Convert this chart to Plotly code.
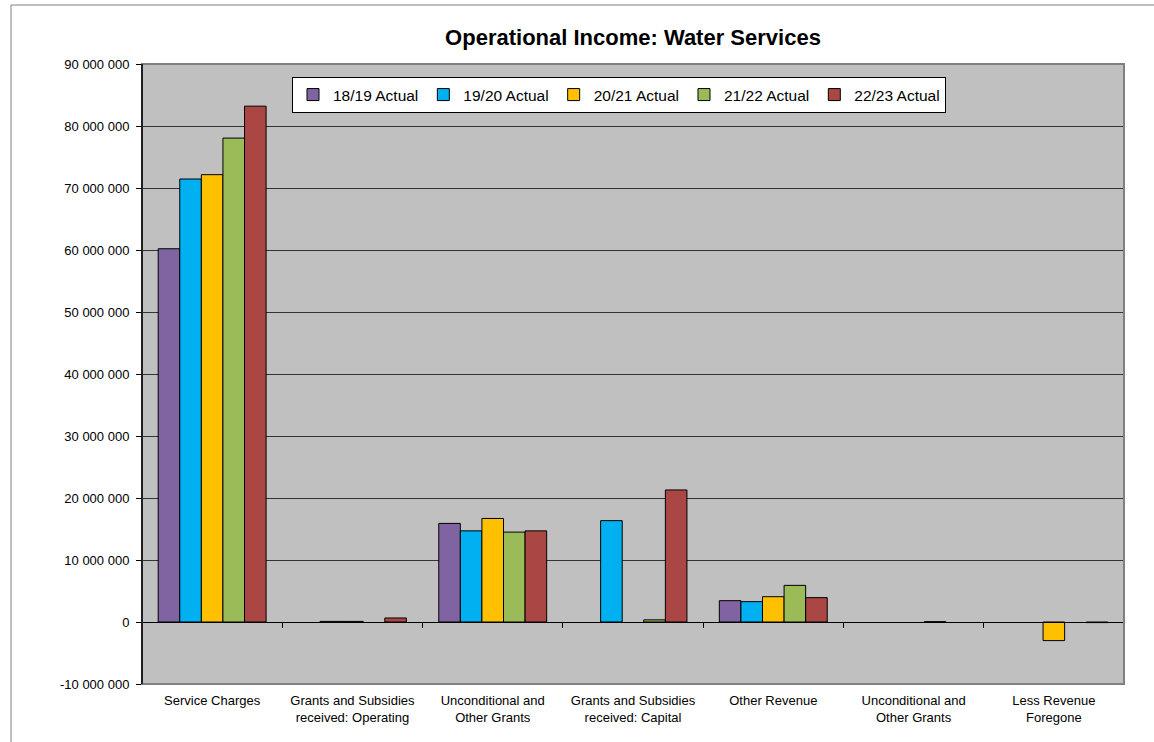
import plotly.graph_objects as go

# Income categories (two-line axis labels)
categories = [
    "Service Charges",
    "Grants and Subsidies<br>received: Operating",
    "Unconditional and<br>Other Grants",
    "Grants and Subsidies<br>received: Capital",
    "Other Revenue",
    "Unconditional and<br>Other Grants",
    "Less Revenue<br>Foregone",
]

# Actual income per financial year (Rand); None = nothing recorded
actual_18_19 = [60_200_000, None, 15_900_000, None, 3_440_000, None, None]
actual_19_20 = [71_450_000, 100_000, 14_700_000, 16_350_000, 3_280_000, None, None]
actual_20_21 = [72_150_000, 100_000, 16_700_000, None, 4_080_000, None, -3_000_000]
actual_21_22 = [78_050_000, None, 14_500_000, 350_000, 5_910_000, 50_000, None]
actual_22_23 = [83_200_000, 650_000, 14_700_000, 21_300_000, 3_930_000, None, -100_000]

series_names = ["18/19 Actual", "19/20 Actual", "20/21 Actual", "21/22 Actual", "22/23 Actual"]
series_values = [actual_18_19, actual_19_20, actual_20_21, actual_21_22, actual_22_23]
series_colors = ["#8064A2", "#00B0F0", "#FFC000", "#9BBB59", "#AA4643"]

# Value axis ticks
y_ticks = [-10_000_000, 0, 10_000_000, 20_000_000, 30_000_000, 40_000_000,
           50_000_000, 60_000_000, 70_000_000, 80_000_000, 90_000_000]
y_tick_text = [("-" if v < 0 else "") + f"{abs(v):,}".replace(",", " ") for v in y_ticks]

FONT = "Liberation Sans, Arial, sans-serif"
W, H = 1154, 742
ML, MR, MT, MB = 142, 30, 64, 58
PW, PH = W - ML - MR, H - MT - MB

x_idx = list(range(len(categories)))

fig = go.Figure()
for name, vals, col in zip(series_names, series_values, series_colors):
    fig.add_trace(go.Bar(
        x=x_idx, y=vals, name=name,
        marker=dict(color=col, line=dict(color="#000000", width=1)),
    ))

y_min, y_max = y_ticks[0], y_ticks[-1]
zero_pos = (0 - y_min) / (y_max - y_min)

def px_x(p):
    return (p - ML) / PW

def px_y(p):
    return (H - MB - p) / PH

fig.update_layout(
    width=W, height=H,
    margin=dict(l=ML, r=MR, t=MT, b=MB),
    paper_bgcolor="#FFFFFF",
    plot_bgcolor="#C0C0C0",
    barmode="group",
    bargap=0.2308,
    bargroupgap=0,
    font=dict(family=FONT, size=13, color="#000000"),
    title=dict(
        text="<b>Operational Income: Water Services</b>",
        font=dict(family=FONT, size=22, color="#000000"),
        x=0.5, xref="paper", xanchor="center",
        y=1 - 37 / H, yref="container", yanchor="middle",
    ),
    showlegend=True,
    legend=dict(
        orientation="h",
        x=px_x(292), y=px_y(77), xanchor="left", yanchor="top",
        bgcolor="#FFFFFF", bordercolor="#000000", borderwidth=1,
        font=dict(family=FONT, size=15.5, color="#000000"),
        itemwidth=30,
        traceorder="normal",
    ),
    xaxis=dict(
        range=[-0.5, len(categories) - 0.5],
        tickmode="array", tickvals=x_idx, ticktext=categories,
        ticks="", showgrid=False, zeroline=False, showline=False,
        tickfont=dict(family=FONT, size=13, color="#000000"),
        ticklabelstandoff=7,
    ),
    xaxis2=dict(
        overlaying="x", anchor="free", position=zero_pos, side="bottom",
        range=[-0.5, len(categories) - 0.5],
        tickmode="array", tickvals=[i - 0.5 for i in range(len(categories) + 1)],
        ticks="outside", ticklen=5, tickcolor="#000000", tickwidth=1,
        showticklabels=False, showgrid=False, zeroline=False,
        showline=True, linecolor="#000000", linewidth=1,
    ),
    yaxis=dict(
        range=[y_min, y_max],
        tickmode="array", tickvals=y_ticks, ticktext=y_tick_text,
        ticks="outside", ticklen=5, tickcolor="#000000",
        showgrid=True, gridcolor="#333333", gridwidth=1,
        zeroline=True, zerolinecolor="#000000", zerolinewidth=1,
        showline=False,
        tickfont=dict(family=FONT, size=13, color="#000000"),
        ticklabelstandoff=4,
    ),
    shapes=[
        # plot-area frame
        dict(type="rect", xref="x domain", yref="y domain", x0=0, x1=1, y0=0, y1=1,
             line=dict(color="#808080", width=2), layer="above"),
        # value axis line
        dict(type="line", xref="x domain", yref="y domain", x0=0, x1=0, y0=0, y1=1,
             line=dict(color="#000000", width=1.5), layer="above"),
        # chart-area frame
        dict(type="rect", xref="paper", yref="paper",
             x0=px_x(11), x1=px_x(1170), y0=px_y(760), y1=px_y(5),
             line=dict(color="#808080", width=1), layer="above"),
    ],
)

# Invisible trace so the zero-line category axis is rendered
fig.add_trace(go.Scatter(x=[None], y=[None], xaxis="x2", showlegend=False, hoverinfo="skip"))

fig.write_html("out.html")
